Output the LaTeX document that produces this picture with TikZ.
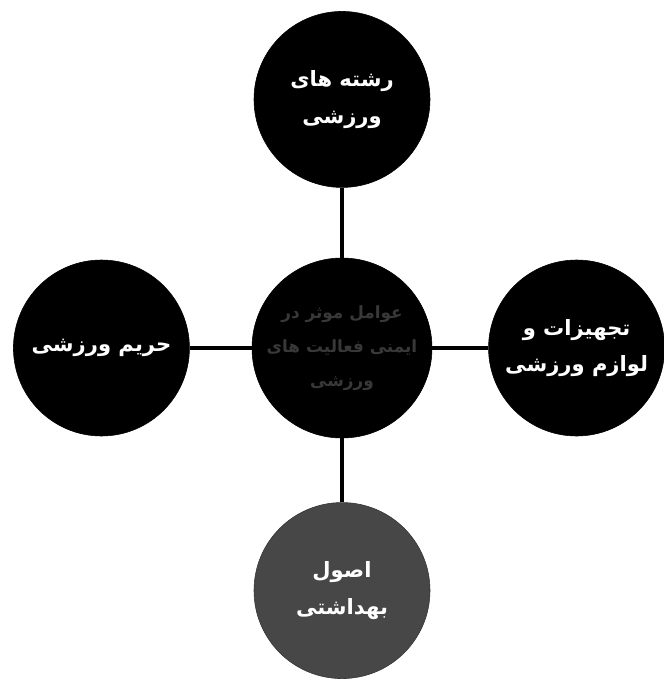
\documentclass[tikz,border=0pt]{standalone}
\usepackage{fontspec}
\newfontfamily\arabicfont[Script=Arabic]{DejaVu Sans}
\TeXXeTstate=1
\usetikzlibrary{positioning}

\tikzset{
    topic/.style={circle, fill=black, draw=black, minimum size=4.4cm, inner sep=0pt,
        text=white, align=center, font=\arabicfont\bfseries\fontsize{15}{26}\selectfont},
    link/.style={line width=1.1mm}
}

\begin{document}
\begin{tikzpicture}
        \useasboundingbox (0,0) rectangle (16.6,-17.175);

        % Central node
        \node [topic, minimum size=4.5cm, text=black!78, font=\arabicfont\bfseries\fontsize{12}{24}\selectfont] (hub) at (8.55,-8.7)
            {\beginR عوامل موثر در\endR\\ \beginR ایمنی فعالیت های\endR\\ \beginR ورزشی\endR};

        % Surrounding topics
        \node [topic, above=1.75cm of hub] (fields) {\beginR رشته های\endR\\ \beginR ورزشی\endR};
        \node [topic, left=1.55cm of hub] (area) {\beginR حریم ورزشی\endR};
        \node [topic, right=1.4cm of hub] (gear) {\beginR تجهیزات و\endR\\ \beginR لوازم ورزشی\endR};
        \node [topic, fill=black!72, draw=black!80, below=1.6cm of hub] (hygiene) {\beginR اصول\endR\\ \beginR بهداشتی\endR};

        % Connectors
        \foreach \t in {fields, area, gear, hygiene} {
            \draw [link] (hub) -- (\t);
        }
\end{tikzpicture}
\end{document}
